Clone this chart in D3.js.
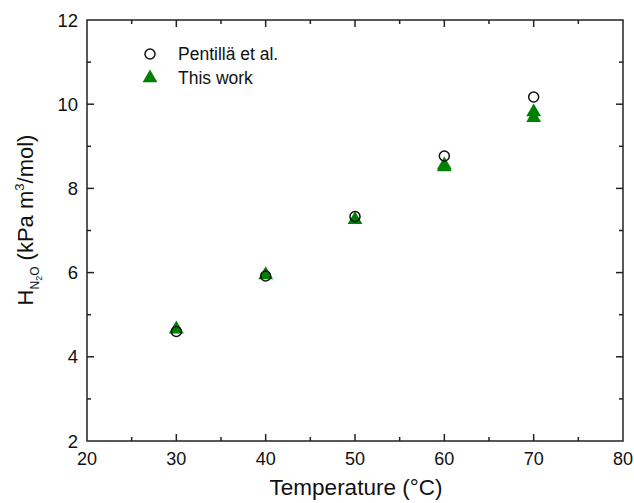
<!DOCTYPE html>
<html><head><meta charset="utf-8">
<script src="https://cdn.jsdelivr.net/npm/d3@7"></script>
<style>body{margin:0;background:#fff}svg{display:block}text{font-family:Arial,"Liberation Sans",sans-serif;fill:#111}</style>
</head><body><svg id="c" width="634" height="503"></svg>
<script>
const pentillaT = [30, 40, 50, 60, 70];
const pentillaH = [4.60, 5.92, 7.33, 8.77, 10.17];
const thisT = [30, 40, 50, 60, 60, 70, 70];
const thisH = [4.68, 5.97, 7.28, 8.53, 8.58, 9.70, 9.84];
const xTicks = [20, 30, 40, 50, 60, 70, 80];
const yTicks = [2, 4, 6, 8, 10, 12];
const legendLabels = ["Pentillä et al.", "This work"];

const svg = d3.select("#c");
const L = 87, R = 623, T = 20, B = 441;
const x = d3.scaleLinear().domain([20, 80]).range([L, R]);
const y = d3.scaleLinear().domain([2, 12]).range([B, T]);
const axCol = "#222";

const g = svg.append("g");
g.append("rect").attr("x", L).attr("y", T).attr("width", R - L).attr("height", B - T)
  .attr("fill", "none").attr("stroke", axCol).attr("stroke-width", 1.5);

const xMinor = d3.range(25, 80, 10);
const yMinor = d3.range(3, 12, 2);
function ticks(vals, len) {
  vals.forEach(v => {
    g.append("line").attr("x1", x(v)).attr("x2", x(v)).attr("y1", B).attr("y2", B - len).attr("stroke", axCol).attr("stroke-width", 1.5);
    g.append("line").attr("x1", x(v)).attr("x2", x(v)).attr("y1", T).attr("y2", T + len).attr("stroke", axCol).attr("stroke-width", 1.5);
  });
}
ticks(xTicks.slice(1, -1), 7);
ticks(xMinor, 4);
function yt(vals, len) {
  vals.forEach(v => {
    g.append("line").attr("y1", y(v)).attr("y2", y(v)).attr("x1", L).attr("x2", L + len).attr("stroke", axCol).attr("stroke-width", 1.5);
    g.append("line").attr("y1", y(v)).attr("y2", y(v)).attr("x1", R).attr("x2", R - len).attr("stroke", axCol).attr("stroke-width", 1.5);
  });
}
yt(yTicks.slice(1, -1), 7);
yt(yMinor, 4);

xTicks.forEach(v => g.append("text").attr("x", x(v)).attr("y", 465).attr("text-anchor", "middle").attr("font-size", 18).text(v));
yTicks.forEach(v => g.append("text").attr("x", 78).attr("y", y(v) + 6.5).attr("text-anchor", "end").attr("font-size", 18.5).text(v));

g.append("text").attr("x", 356).attr("y", 495).attr("text-anchor", "middle").attr("font-size", 22.5).text("Temperature (°C)");

const yl = g.append("text").attr("transform", "translate(33,220) rotate(-90)").attr("text-anchor", "middle").attr("font-size", 22);
yl.append("tspan").text("H");
yl.append("tspan").attr("font-size", 12).attr("dy", 6).text("N");
yl.append("tspan").attr("font-size", 9).attr("dy", 3).text("2");
yl.append("tspan").attr("font-size", 12).attr("dy", -3).text("O");
yl.append("tspan").attr("dy", -6).text(" (kPa m");
yl.append("tspan").attr("font-size", 13).attr("dy", -9).text("3");
yl.append("tspan").attr("dy", 9).text("/mol)");

const tri = d3.symbol().type(d3.symbolTriangle).size(95);
thisT.forEach((t, i) => {
  g.append("path").attr("d", tri).attr("transform", `translate(${x(t)},${y(thisH[i]) + 1})`).attr("fill", "#008000");
});
pentillaT.forEach((t, i) => {
  g.append("circle").attr("cx", x(t)).attr("cy", y(pentillaH[i])).attr("r", 5).attr("fill", "none").attr("stroke", "#111").attr("stroke-width", 1.5);
});

g.append("circle").attr("cx", 150).attr("cy", 54).attr("r", 5).attr("fill", "none").attr("stroke", "#111").attr("stroke-width", 1.5);
g.append("path").attr("d", tri).attr("transform", "translate(150,78)").attr("fill", "#008000");
g.append("text").attr("x", 178).attr("y", 60).attr("font-size", 17.5).text(legendLabels[0]);
g.append("text").attr("x", 178).attr("y", 84).attr("font-size", 17.5).text(legendLabels[1]);
</script></body></html>
